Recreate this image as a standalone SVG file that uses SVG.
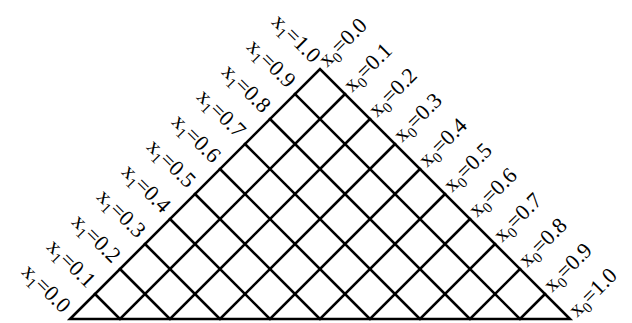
<svg xmlns="http://www.w3.org/2000/svg" width="632" height="323" viewBox="0 0 632 323">
<style>
.g{fill:none;stroke:#000;stroke-width:2.6;stroke-linecap:square}
text{font-family:"Liberation Serif","Times New Roman",serif;font-size:22px;fill:#000}
.l{text-anchor:end}
.s{font-size:15px}
</style>
<rect width="632" height="323" fill="#fff"/>
<g id="grid">
<polygon class="g" points="70,319 320,69 570,319" stroke-linejoin="miter"/>
<path class="g" d="M120,319L345,94M170,319L370,119M220,319L395,144M270,319L420,169M320,319L445,194M370,319L470,219M420,319L495,244M470,319L520,269M520,319L545,294
M120,319L95,294M170,319L120,269M220,319L145,244M270,319L170,219M320,319L195,194M370,319L220,169M420,319L245,144M470,319L270,119M520,319L295,94"/>
</g>
<g id="x1-labels">
<text class="l" transform="translate(62,314) rotate(45)">x<tspan class="s" dy="5">1</tspan><tspan dy="-5">=0.0</tspan></text>
<text class="l" transform="translate(87,289) rotate(45)">x<tspan class="s" dy="5">1</tspan><tspan dy="-5">=0.1</tspan></text>
<text class="l" transform="translate(112,264) rotate(45)">x<tspan class="s" dy="5">1</tspan><tspan dy="-5">=0.2</tspan></text>
<text class="l" transform="translate(137,239) rotate(45)">x<tspan class="s" dy="5">1</tspan><tspan dy="-5">=0.3</tspan></text>
<text class="l" transform="translate(162,214) rotate(45)">x<tspan class="s" dy="5">1</tspan><tspan dy="-5">=0.4</tspan></text>
<text class="l" transform="translate(187,189) rotate(45)">x<tspan class="s" dy="5">1</tspan><tspan dy="-5">=0.5</tspan></text>
<text class="l" transform="translate(212,164) rotate(45)">x<tspan class="s" dy="5">1</tspan><tspan dy="-5">=0.6</tspan></text>
<text class="l" transform="translate(237,139) rotate(45)">x<tspan class="s" dy="5">1</tspan><tspan dy="-5">=0.7</tspan></text>
<text class="l" transform="translate(262,114) rotate(45)">x<tspan class="s" dy="5">1</tspan><tspan dy="-5">=0.8</tspan></text>
<text class="l" transform="translate(287,89) rotate(45)">x<tspan class="s" dy="5">1</tspan><tspan dy="-5">=0.9</tspan></text>
<text class="l" transform="translate(312,64) rotate(45)">x<tspan class="s" dy="5">1</tspan><tspan dy="-5">=1.0</tspan></text>
</g>
<g id="x0-labels">
<text transform="translate(327,68) rotate(-45)">x<tspan class="s" dy="5">0</tspan><tspan dy="-5">=0.0</tspan></text>
<text transform="translate(352,93) rotate(-45)">x<tspan class="s" dy="5">0</tspan><tspan dy="-5">=0.1</tspan></text>
<text transform="translate(377,118) rotate(-45)">x<tspan class="s" dy="5">0</tspan><tspan dy="-5">=0.2</tspan></text>
<text transform="translate(402,143) rotate(-45)">x<tspan class="s" dy="5">0</tspan><tspan dy="-5">=0.3</tspan></text>
<text transform="translate(427,168) rotate(-45)">x<tspan class="s" dy="5">0</tspan><tspan dy="-5">=0.4</tspan></text>
<text transform="translate(452,193) rotate(-45)">x<tspan class="s" dy="5">0</tspan><tspan dy="-5">=0.5</tspan></text>
<text transform="translate(477,218) rotate(-45)">x<tspan class="s" dy="5">0</tspan><tspan dy="-5">=0.6</tspan></text>
<text transform="translate(502,243) rotate(-45)">x<tspan class="s" dy="5">0</tspan><tspan dy="-5">=0.7</tspan></text>
<text transform="translate(527,268) rotate(-45)">x<tspan class="s" dy="5">0</tspan><tspan dy="-5">=0.8</tspan></text>
<text transform="translate(552,293) rotate(-45)">x<tspan class="s" dy="5">0</tspan><tspan dy="-5">=0.9</tspan></text>
<text transform="translate(577,318) rotate(-45)">x<tspan class="s" dy="5">0</tspan><tspan dy="-5">=1.0</tspan></text>
</g>
</svg>
